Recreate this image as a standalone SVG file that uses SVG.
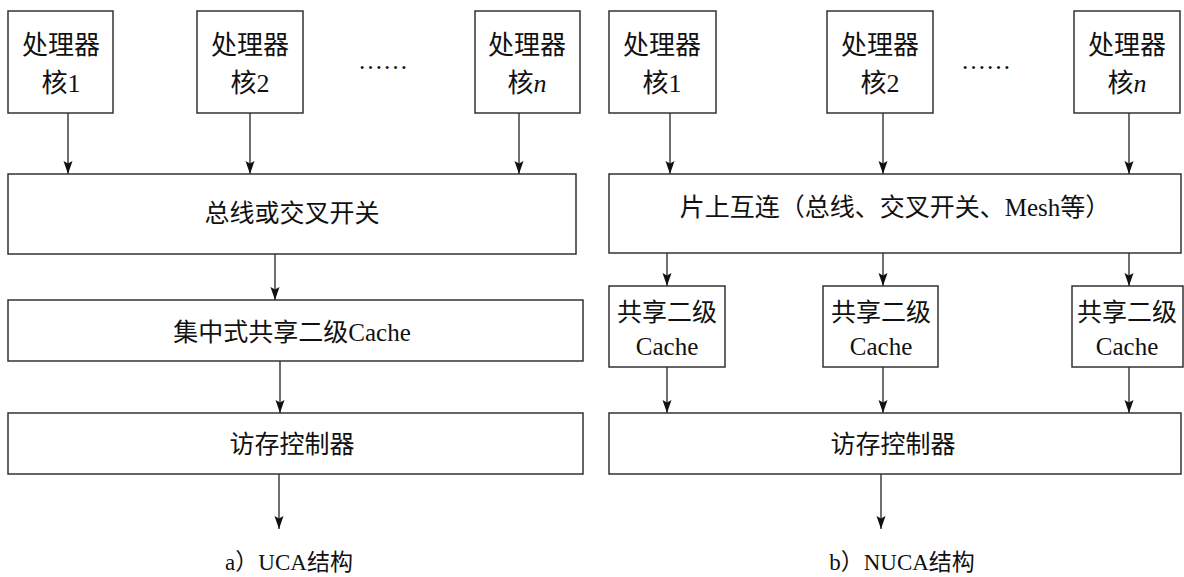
<svg xmlns="http://www.w3.org/2000/svg" width="1184" height="577" viewBox="0 0 1184 577">
<style>
.box{fill:#fff;stroke:#333;stroke-width:1.5}
.t{font-family:"Liberation Serif","Noto Sans CJK SC",serif;font-size:25px;fill:#111;text-anchor:middle}
.big{font-size:26px}
.cap{font-size:23px}
.c{stroke:#222;stroke-width:1.3;fill:none;marker-end:url(#ah)}
</style>
<defs>
<marker id="ah" markerUnits="userSpaceOnUse" markerWidth="14" markerHeight="10" refX="13" refY="4.5" orient="auto">
<path d="M0,0 L13,4.5 L0,9 L2.5,4.5 z" fill="#111"/>
</marker>
</defs>
<rect width="1184" height="577" fill="#fff"/>
<g id="connectors">
<line class="c" x1="68" y1="113" x2="68" y2="174"/>
<line class="c" x1="250" y1="113" x2="250" y2="174"/>
<line class="c" x1="519" y1="113" x2="519" y2="174"/>
<line class="c" x1="275" y1="254" x2="275" y2="300"/>
<line class="c" x1="280" y1="361" x2="280" y2="413"/>
<line class="c" x1="279" y1="474" x2="279" y2="529"/>
<line class="c" x1="670" y1="113" x2="670" y2="174"/>
<line class="c" x1="883" y1="113" x2="883" y2="174"/>
<line class="c" x1="1129" y1="113" x2="1129" y2="174"/>
<line class="c" x1="667" y1="253" x2="667" y2="286"/>
<line class="c" x1="883" y1="253" x2="883" y2="286"/>
<line class="c" x1="1129" y1="253" x2="1129" y2="286"/>
<line class="c" x1="667" y1="367" x2="667" y2="413"/>
<line class="c" x1="883" y1="367" x2="883" y2="413"/>
<line class="c" x1="1129" y1="367" x2="1129" y2="413"/>
<line class="c" x1="881" y1="474" x2="881" y2="529"/>
</g>
<g id="a-core1"><rect class="box" x="8" y="11" width="105" height="102"/><text class="t big" x="61" y="54">处理器</text><text class="t big" x="61" y="92">核1</text></g>
<g id="a-core2"><rect class="box" x="197" y="11" width="106" height="102"/><text class="t big" x="250" y="54">处理器</text><text class="t big" x="250" y="92">核2</text></g>
<g id="a-dots"><text class="t" x="383" y="69">……</text></g>
<g id="a-coren"><rect class="box" x="475" y="11" width="105" height="102"/><text class="t big" x="527" y="54">处理器</text><text class="t big" x="527" y="92">核<tspan font-style="italic">n</tspan></text></g>
<g id="a-bus"><rect class="box" x="8" y="174" width="568" height="80"/><text class="t" x="292" y="222">总线或交叉开关</text></g>
<g id="a-cache"><rect class="box" x="8" y="300" width="575" height="61"/><text class="t" x="292" y="341">集中式共享二级Cache</text></g>
<g id="a-mc"><rect class="box" x="8" y="413" width="575" height="61"/><text class="t" x="292" y="453">访存控制器</text></g>
<g id="a-caption"><text class="t cap" x="289" y="570">a）UCA结构</text></g>

<g id="b-core1"><rect class="box" x="609" y="11" width="107" height="102"/><text class="t big" x="662" y="54">处理器</text><text class="t big" x="662" y="92">核1</text></g>
<g id="b-core2"><rect class="box" x="827" y="11" width="106" height="102"/><text class="t big" x="880" y="54">处理器</text><text class="t big" x="880" y="92">核2</text></g>
<g id="b-dots"><text class="t" x="986" y="69">……</text></g>
<g id="b-coren"><rect class="box" x="1074" y="11" width="106" height="102"/><text class="t big" x="1127" y="54">处理器</text><text class="t big" x="1127" y="92">核<tspan font-style="italic">n</tspan></text></g>
<g id="b-noc"><rect class="box" x="609" y="174" width="572" height="79"/><text class="t" x="895" y="216">片上互连（总线、交叉开关、Mesh等）</text></g>
<g id="b-l2a"><rect class="box" x="609" y="286" width="116" height="81"/><text class="t" x="667" y="321">共享二级</text><text class="t" x="667" y="355">Cache</text></g>
<g id="b-l2b"><rect class="box" x="823" y="286" width="115" height="81"/><text class="t" x="881" y="321">共享二级</text><text class="t" x="881" y="355">Cache</text></g>
<g id="b-l2n"><rect class="box" x="1072" y="286" width="111" height="81"/><text class="t" x="1127" y="321">共享二级</text><text class="t" x="1127" y="355">Cache</text></g>
<g id="b-mc"><rect class="box" x="609" y="413" width="572" height="61"/><text class="t" x="893" y="453">访存控制器</text></g>
<g id="b-caption"><text class="t cap" x="902" y="570">b）NUCA结构</text></g>
</svg>
